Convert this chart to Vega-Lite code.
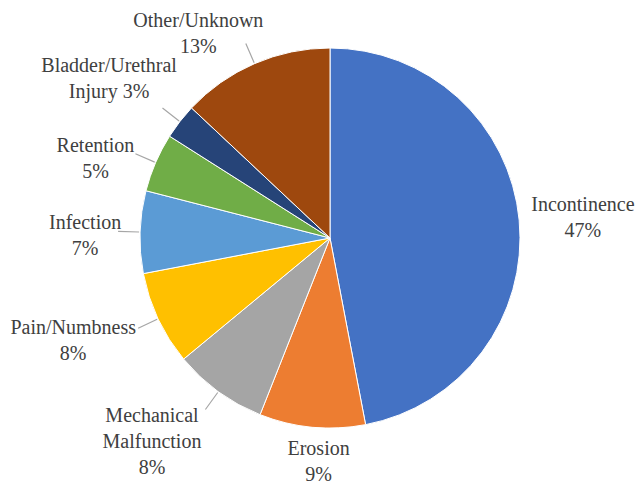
{
  "$schema": "https://vega.github.io/schema/vega-lite/v6.json",
  "autosize": "none",
  "padding": {"left": 25, "top": 0, "right": 0, "bottom": 6},
  "width": 610,
  "height": 476,
  "background": "white",
  "view": {"stroke": null},
  "data": {
    "values": [
      {"idx": 1, "category": "Incontinence", "pct": 47, "label": "Incontinence|47%"},
      {"idx": 2, "category": "Erosion", "pct": 9, "label": "Erosion|9%"},
      {"idx": 3, "category": "Mechanical Malfunction", "pct": 8, "label": "Mechanical|Malfunction|8%"},
      {"idx": 4, "category": "Pain/Numbness", "pct": 8, "label": "Pain/Numbness|8%"},
      {"idx": 5, "category": "Infection", "pct": 7, "label": "Infection|7%"},
      {"idx": 6, "category": "Retention", "pct": 5, "label": "Retention|5%"},
      {"idx": 7, "category": "Bladder/Urethral Injury", "pct": 3, "label": "Bladder/Urethral|Injury 3%"},
      {"idx": 8, "category": "Other/Unknown", "pct": 13, "label": "Other/Unknown|13%"}
    ]
  },
  "encoding": {
    "theta": {"field": "pct", "type": "quantitative", "stack": true, "scale": {"domain": [0, 100]}},
    "order": {"field": "idx", "type": "quantitative"}
  },
  "layer": [
    {
      "mark": {"type": "arc", "outerRadius": 190, "stroke": "white", "strokeWidth": 1},
      "encoding": {
        "color": {
          "field": "category",
          "type": "nominal",
          "legend": null,
          "scale": {
            "domain": ["Incontinence", "Erosion", "Mechanical Malfunction", "Pain/Numbness", "Infection", "Retention", "Bladder/Urethral Injury", "Other/Unknown"],
            "range": ["#4472C4", "#ED7D31", "#A5A5A5", "#FFC000", "#5B9BD5", "#70AD47", "#264478", "#9E480E"]
          }
        }
      }
    },
    {
      "transform": [
        {"window": [{"op": "sum", "field": "pct", "as": "cum"}], "sort": [{"field": "idx"}]},
        {"calculate": "datum.cum - datum.pct / 2", "as": "mid"},
        {"filter": "datum.idx >= 3"}
      ],
      "mark": {"type": "arc", "innerRadius": 191, "outerRadius": 212, "fill": null, "stroke": "#A6A6A6", "strokeWidth": 1.2},
      "encoding": {
        "theta": {"field": "mid", "type": "quantitative", "stack": null},
        "theta2": {"field": "mid"}
      }
    },
    {
      "transform": [
        {"window": [{"op": "sum", "field": "pct", "as": "cum"}], "sort": [{"field": "idx"}]},
        {"calculate": "datum.cum - datum.pct / 2", "as": "mid"},
        {"filter": "datum.idx == 1"}
      ],
      "mark": {"type": "text", "radius": 254, "dy": -9, "font": "Liberation Serif", "fontSize": 20, "lineHeight": 26, "lineBreak": "|", "fill": "#404040", "align": "center", "baseline": "middle"},
      "encoding": {"theta": {"field": "mid", "type": "quantitative", "stack": null}, "text": {"field": "label"}}
    },
    {
      "transform": [
        {"window": [{"op": "sum", "field": "pct", "as": "cum"}], "sort": [{"field": "idx"}]},
        {"calculate": "datum.cum - datum.pct / 2", "as": "mid"},
        {"filter": "datum.idx == 2"}
      ],
      "mark": {"type": "text", "radius": 217, "dx": 9, "dy": -5, "font": "Liberation Serif", "fontSize": 20, "lineHeight": 26, "lineBreak": "|", "fill": "#404040", "align": "center", "baseline": "middle"},
      "encoding": {"theta": {"field": "mid", "type": "quantitative", "stack": null}, "text": {"field": "label"}}
    },
    {
      "transform": [
        {"window": [{"op": "sum", "field": "pct", "as": "cum"}], "sort": [{"field": "idx"}]},
        {"calculate": "datum.cum - datum.pct / 2", "as": "mid"},
        {"filter": "datum.idx == 3"}
      ],
      "mark": {"type": "text", "radius": 262, "dx": -24, "dy": -34, "font": "Liberation Serif", "fontSize": 20, "lineHeight": 26, "lineBreak": "|", "fill": "#404040", "align": "center", "baseline": "middle"},
      "encoding": {"theta": {"field": "mid", "type": "quantitative", "stack": null}, "text": {"field": "label"}}
    },
    {
      "transform": [
        {"window": [{"op": "sum", "field": "pct", "as": "cum"}], "sort": [{"field": "idx"}]},
        {"calculate": "datum.cum - datum.pct / 2", "as": "mid"},
        {"filter": "datum.idx == 4"}
      ],
      "mark": {"type": "text", "radius": 275, "dx": -8, "dy": -27, "font": "Liberation Serif", "fontSize": 20, "lineHeight": 26, "lineBreak": "|", "fill": "#404040", "align": "center", "baseline": "middle"},
      "encoding": {"theta": {"field": "mid", "type": "quantitative", "stack": null}, "text": {"field": "label"}}
    },
    {
      "transform": [
        {"window": [{"op": "sum", "field": "pct", "as": "cum"}], "sort": [{"field": "idx"}]},
        {"calculate": "datum.cum - datum.pct / 2", "as": "mid"},
        {"filter": "datum.idx == 5"}
      ],
      "mark": {"type": "text", "radius": 245, "dy": -7, "font": "Liberation Serif", "fontSize": 20, "lineHeight": 26, "lineBreak": "|", "fill": "#404040", "align": "center", "baseline": "middle"},
      "encoding": {"theta": {"field": "mid", "type": "quantitative", "stack": null}, "text": {"field": "label"}}
    },
    {
      "transform": [
        {"window": [{"op": "sum", "field": "pct", "as": "cum"}], "sort": [{"field": "idx"}]},
        {"calculate": "datum.cum - datum.pct / 2", "as": "mid"},
        {"filter": "datum.idx == 6"}
      ],
      "mark": {"type": "text", "radius": 249, "dx": -6, "dy": 7, "font": "Liberation Serif", "fontSize": 20, "lineHeight": 26, "lineBreak": "|", "fill": "#404040", "align": "center", "baseline": "middle"},
      "encoding": {"theta": {"field": "mid", "type": "quantitative", "stack": null}, "text": {"field": "label"}}
    },
    {
      "transform": [
        {"window": [{"op": "sum", "field": "pct", "as": "cum"}], "sort": [{"field": "idx"}]},
        {"calculate": "datum.cum - datum.pct / 2", "as": "mid"},
        {"filter": "datum.idx == 7"}
      ],
      "mark": {"type": "text", "radius": 272, "dx": -6, "dy": -5, "font": "Liberation Serif", "fontSize": 20, "lineHeight": 26, "lineBreak": "|", "fill": "#404040", "align": "center", "baseline": "middle"},
      "encoding": {"theta": {"field": "mid", "type": "quantitative", "stack": null}, "text": {"field": "label"}}
    },
    {
      "transform": [
        {"window": [{"op": "sum", "field": "pct", "as": "cum"}], "sort": [{"field": "idx"}]},
        {"calculate": "datum.cum - datum.pct / 2", "as": "mid"},
        {"filter": "datum.idx == 8"}
      ],
      "mark": {"type": "text", "radius": 261, "dx": -28, "dy": 23, "font": "Liberation Serif", "fontSize": 20, "lineHeight": 26, "lineBreak": "|", "fill": "#404040", "align": "center", "baseline": "middle"},
      "encoding": {"theta": {"field": "mid", "type": "quantitative", "stack": null}, "text": {"field": "label"}}
    }
  ]
}
